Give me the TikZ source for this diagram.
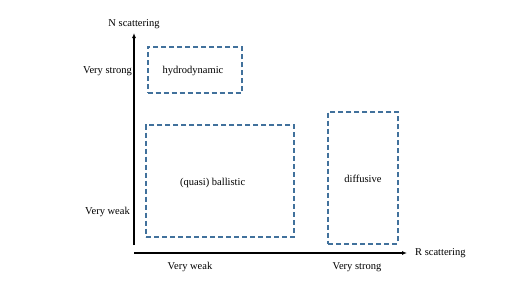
\documentclass[tikz,border=0pt]{standalone}
\usepackage{fontspec}
\setmainfont{Liberation Serif}
\usepackage{tikz}
\usetikzlibrary{arrows.meta}

\definecolor{regimeblue}{RGB}{65,113,156}

\tikzset{
	regime/.style={draw=regimeblue, line width=1.8pt, dash pattern=on 5pt off 3pt, inner sep=0pt},
	axis/.style={line width=1.2pt, -{Latex[length=5pt,width=4pt]}},
	lbl/.style={font=\fontsize{10.5}{12}\selectfont, inner sep=1pt}
}

\begin{document}
\begin{tikzpicture}[x=1pt,y=-1pt]
			\useasboundingbox (0,0) rectangle (507,285);
			
			% axes
			\coordinate (vbase) at (134,245);
			\coordinate (vtop) at (134,33);
			\coordinate (hbase) at (134,253);
			\coordinate (hend) at (407,253);
			\draw[axis] (vbase) -- (vtop);
			\draw[axis] (hbase) -- (hend);
			\node[lbl] (nscat) at (134,24) {N scattering};
			\node[lbl, anchor=west] (rscat) at (414,253) {R scattering};
			
			\node[lbl, anchor=east] (nstrong) at (133,71) {Very strong};
			\node[lbl, anchor=east] (nweak) at (131,212) {Very weak};
			\node[lbl] (rweak) at (190,267) {Very weak};
			\node[lbl] (rstrong) at (357,267) {Very strong};
			
			% regimes
			\node[regime, minimum width=94pt, minimum height=46.5pt] (hydro) at (194.7,70) {};
			\node[lbl] at (193,71) {hydrodynamic};
			
			\node[regime, minimum width=148.3pt, minimum height=111.7pt] (ballistic) at (220.2,180.8) {};
			\node[lbl] at (212.7,183) {(quasi) ballistic};
			
			\node[regime, minimum width=69.4pt, minimum height=132.3pt] (diffusive) at (363,177.8) {};
			\node[lbl] at (363,179) {diffusive};
		\end{tikzpicture}
\end{document}
